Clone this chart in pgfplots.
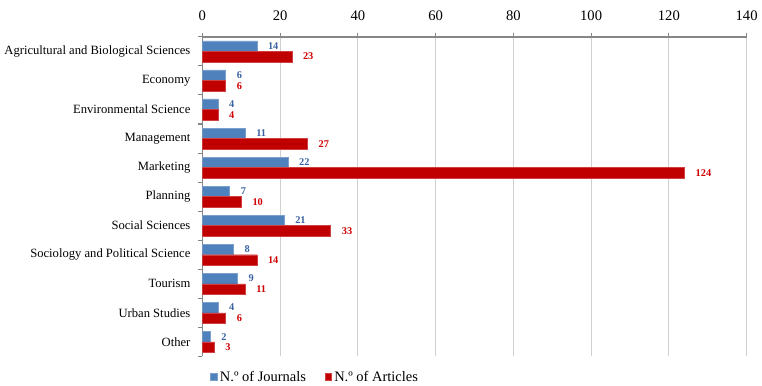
\documentclass[border=0pt]{standalone}
\usepackage{fontspec}
\setmainfont{Liberation Serif}
\usepackage{pgfplots}
\pgfplotsset{compat=1.18}

\definecolor{journalblue}{HTML}{4F81BD}
\definecolor{journaltext}{HTML}{3A62A0}
\definecolor{articlered}{HTML}{C00000}
\definecolor{articletext}{HTML}{D00000}
\definecolor{axisgray}{HTML}{868686}
\definecolor{gridgray}{HTML}{D0D0D0}

\begin{document}
\begin{tikzpicture}
\begin{axis}[
  name=ax,
  scale only axis,
  width=410pt, height=240.75pt,
  xbar, bar width=7.9pt,
  xmin=0, xmax=140,
  ymin=-0.5, ymax=10.5,
  xtick={0,20,...,140},
  xticklabel pos=top,
  /pgf/number format/assume math mode=true,
  xticklabel style={font=\fontsize{11}{13}\selectfont, yshift=6pt},
  ytick={0,...,10},
  yticklabels={Other,Urban Studies,Tourism,Sociology and Political Science,Social Sciences,Planning,Marketing,Management,Environmental Science,Economy,Agricultural and Biological Sciences},
  yticklabel style={font=\fontsize{9.5}{11}\selectfont, xshift=-2.5pt},
  minor ytick={-0.5,0.5,...,10.5},
  every major y tick/.append style={draw=none},
  every minor y tick/.append style={draw=axisgray, line width=0.8pt},
  every major x tick/.append style={draw=axisgray, line width=0.8pt},
  tick align=outside,
  major tick length=3pt, minor tick length=3pt,
  xmajorgrids,
  grid style={draw=gridgray, line width=0.8pt},
  axis line style={draw=axisgray, line width=1.2pt},
  axis x line*=top,
  axis y line*=left,
  x axis line style={-},
  y axis line style={-},
  nodes near coords,
  nodes near coords style={font=\bfseries\fontsize{7.8}{9}\selectfont, anchor=west, xshift=5pt},
  legend style={draw=none, at={(axis description cs:0.014,-0.036)}, anchor=north west, legend columns=2,
    font=\fontsize{10.9}{13}\selectfont, inner sep=0pt,
    /tikz/every odd column/.append style={column sep=0pt},
    /tikz/every even column/.append style={column sep=12pt}},
  legend image code/.code={\fill[#1] (1pt,-2.6pt) rectangle (6pt,2.6pt);},
]
\addplot[fill=journalblue, draw=journalblue!75!white, line width=0.3pt, bar shift=3.95pt,
  every node near coord/.append style={text=journaltext}]
  coordinates {(14,10) (6,9) (4,8) (11,7) (22,6) (7,5) (21,4) (8,3) (9,2) (4,1) (2,0)};
\addlegendentry{N.º of Journals}
\addplot[fill=articlered, draw=articlered!75!white, line width=0.3pt, bar shift=-3.95pt,
  every node near coord/.append style={text=articletext}]
  coordinates {(23,10) (6,9) (4,8) (27,7) (124,6) (10,5) (33,4) (14,3) (11,2) (6,1) (3,0)};
\addlegendentry{N.º of Articles}
\end{axis}
% white margin above the tick labels
\path (ax.north west) ++(0pt,27.75pt) coordinate (topedge);
\path (topedge) -- (ax.north east);
\end{tikzpicture}
\end{document}
